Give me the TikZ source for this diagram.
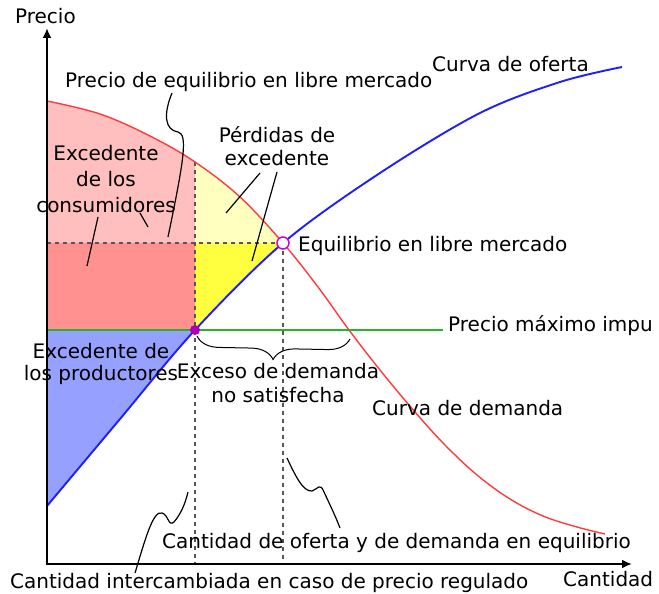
\documentclass[tikz,border=0pt]{standalone}
\usepackage{fontspec}
\setmainfont{DejaVu Sans}
\usetikzlibrary{arrows.meta,decorations.pathreplacing}
\definecolor{pinkA}{RGB}{255,191,191}
\definecolor{salmonA}{RGB}{255,145,145}
\definecolor{lyellow}{RGB}{255,255,191}
\definecolor{yellowA}{RGB}{255,255,64}
\definecolor{blueA}{RGB}{150,160,255}
\definecolor{demandred}{RGB}{255,60,60}
\definecolor{supplyblue}{RGB}{30,30,255}
\definecolor{ceilgreen}{RGB}{40,180,40}
\definecolor{dotpurple}{RGB}{170,0,180}
\definecolor{eqmag}{RGB}{210,0,210}
\definecolor{dashgray}{RGB}{85,85,85}
\begin{document}
\begin{tikzpicture}[x=1pt,y=-1pt,
  lbl/.style={inner sep=0pt,font=\fontsize{20}{24}\selectfont},
  guide/.style={dashgray,line width=1.5pt,dash pattern=on 4pt off 4pt},
  pointer/.style={black,line width=1.2pt},
  axisline/.style={black,line width=2pt,{Latex[length=10pt,width=9pt]}-{Latex[length=10pt,width=9pt]}}]
\def\demandcurve{plot[smooth,tension=0.6] coordinates {(47,101) (100,114) (150,136) (195,162) (240,197) (283,243) (318,287) (349,330) (380,370) (415,412) (445,445) (477,475) (510,499) (543,516) (577,527) (605,534)}}
\def\supplycurve{plot[smooth,tension=0.55] coordinates {(47,506) (120,419) (195,330) (283,243) (380,173) (480,113) (560,82) (622,67)}}
\useasboundingbox (0,0) rectangle (659,594);
\clip (0,0) rectangle (659,594);
\fill[white] (0,0) rectangle (659,594);
% fills
\begin{scope}
\clip \demandcurve -- (605,600) -- (47,600) -- cycle;
\fill[pinkA] (47,80) rectangle (195,243);
\fill[lyellow] (195,80) rectangle (300,243);
\end{scope}
\fill[salmonA] (47,243) rectangle (195,330);
\begin{scope}
\clip \supplycurve -- (622,0) -- (0,0) -- (0,506) -- cycle;
\fill[yellowA] (195,243) rectangle (290,330);
\fill[blueA] (47,330) rectangle (200,564);
\end{scope}
% coordinates
\coordinate (O) at (47,564);
\coordinate (ytip) at (47,28);
\coordinate (xtip) at (632,564);
\coordinate (E) at (283,243);
\coordinate (R) at (195,330);
\coordinate (Dtop) at (195,162);
\coordinate (Pe) at (47,243);
\coordinate (Pc) at (47,330);
\coordinate (Gend) at (443,330);
\coordinate (Qr) at (195,564);
\coordinate (Qe) at (283,564);
\coordinate (B1) at (197,336);
\coordinate (B2) at (350,339);
% guides
\draw[guide] (Pe) -- (E);
\draw[guide] (Dtop) -- (Qr);
\draw[guide] (E) -- (Qe);
% curves
\draw[demandred,line width=1.4pt] \demandcurve;
\draw[supplyblue,line width=1.9pt] \supplycurve;
\draw[ceilgreen,line width=2pt] (Pc) -- (Gend);
\draw[axisline] (ytip) -- (O) -- (xtip);
% points
\node[circle,fill=dotpurple,minimum size=10pt,inner sep=0pt] (Rdot) at (R) {};
\node[circle,draw=eqmag,fill=white,line width=1.5pt,minimum size=12pt,inner sep=0pt] (Edot) at (E) {};
% brace
\draw[black,line width=1pt,decorate,decoration={brace,amplitude=22pt,mirror}] (B1) -- (B2);
% labels
\node[lbl,anchor=base west] (precio) at (15,24) {Precio};
\node[lbl,anchor=base west] (peq) at (65,88) {Precio de equilibrio en libre mercado};
\node[lbl,anchor=base west] (coferta) at (432,71) {Curva de oferta};
\node[lbl,anchor=north,align=center,font=\fontsize{20}{23}\selectfont] (perd) at (277,126) {Pérdidas de\\excedente};
\node[lbl,anchor=north,align=center,font=\fontsize{20}{26}\selectfont] (econs) at (106,145) {Excedente\\de los\\consumidores};
\node[lbl,anchor=base west] (eqlab) at (298,251) {Equilibrio en libre mercado};
\node[lbl,anchor=base west] (pmax) at (448,331) {Precio máximo impu};
\node[lbl,anchor=north,align=center,font=\fontsize{20}{22}\selectfont] (eprod) at (101,343) {Excedente de\\los productores};
\node[lbl,anchor=north,align=center] (exceso) at (278,363) {Exceso de demanda\\no satisfecha};
\node[lbl,anchor=base west] (cdem) at (372,415) {Curva de demanda};
\node[lbl,anchor=base west] (cqe) at (162,548) {Cantidad de oferta y de demanda en equilibrio};
\node[lbl,anchor=base west] (cqr) at (10,588) {Cantidad intercambiada en caso de precio regulado};
\node[lbl,anchor=base west] (cant) at (563,586) {Cantidad};
% pointers
\coordinate (pa1) at (172,93);
\coordinate (pa2) at (168,237);
\draw[pointer] (pa1) .. controls (163,115) and (165,130) .. (178,132) .. controls (188,134) and (184,160) .. (pa2);
\coordinate (pb1) at (260,173);
\coordinate (pb2) at (226,213);
\draw[pointer] (pb1) -- (pb2);
\coordinate (pc1) at (277,172);
\coordinate (pc2) at (252,261);
\draw[pointer] (pc1) -- (pc2);
\coordinate (pd1) at (140,213);
\coordinate (pd2) at (148,227);
\draw[pointer] (pd1) -- (pd2);
\coordinate (pe1) at (98,217);
\coordinate (pe2) at (87,266);
\draw[pointer] (pe1) -- (pe2);
\coordinate (pf1) at (135,573);
\coordinate (pf2) at (188,492);
\draw[pointer] (pf1) .. controls (145,540) and (153,510) .. (162,513) .. controls (169,515) and (168,527) .. (174,522) .. controls (180,515) and (185,505) .. (pf2);
\coordinate (pg1) at (287,458);
\coordinate (pg2) at (340,528);
\draw[pointer] (pg1) .. controls (295,475) and (303,492) .. (312,491) .. controls (318,489) and (320,482) .. (324,492) .. controls (330,505) and (335,515) .. (pg2);
\end{tikzpicture}
\end{document}
